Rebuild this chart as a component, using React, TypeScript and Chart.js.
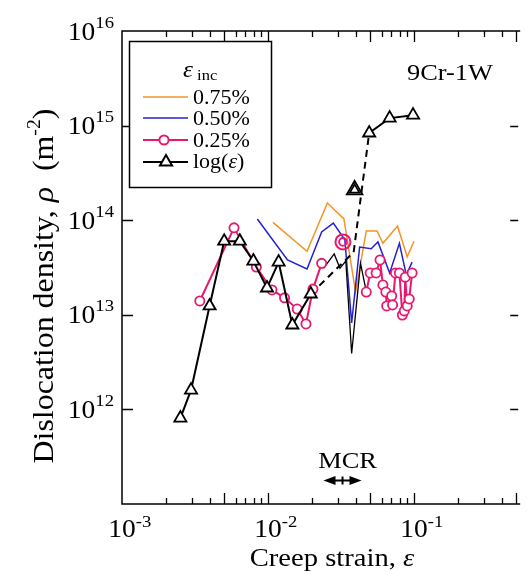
import { useEffect, useRef } from 'react';
import { Chart, registerables } from 'chart.js';

Chart.register(...registerables);

const FONT = "'Liberation Serif', 'Times New Roman', serif";
const SX = 1.1; // horizontal stretch applied to all lettering

// ---- data: creep strain (x) and dislocation density in m^-2 (y) ----
const inc075Strain = [0.0108, 0.0185, 0.0255, 0.0331, 0.0398, 0.0471, 0.0558, 0.0612, 0.0771, 0.0898, 0.1];
const inc075Rho = [9.5e13, 4.7e13, 1.52e14, 1.03e14, 1.74e13, 7.7e13, 7.7e13, 5.7e13, 8.7e13, 4.1e13, 6.0e13];

const inc050Strain = [0.00845, 0.0136, 0.0185, 0.0233, 0.028, 0.0336, 0.0374, 0.0424, 0.0509, 0.0566, 0.0681, 0.0794, 0.0885, 0.097];
const inc050Rho = [1.03e14, 3.8e13, 3.05e13, 7.5e13, 9.3e13, 6.2e13, 8.2e12, 5.2e13, 5.0e13, 5.9e13, 2.77e13, 5.7e13, 2.64e13, 3.6e13];

const inc025EarlyStrain = [0.00341, 0.00585, 0.00832, 0.01064, 0.01298, 0.01585, 0.0182, 0.0203, 0.0233];
const inc025EarlyRho = [1.4e13, 8.3e13, 3.2e13, 1.83e13, 1.51e13, 1.15e13, 8.0e12, 1.87e13, 3.5e13];
const inc025LateStrain = [0.0471, 0.0501, 0.055, 0.0585, 0.0612, 0.0641, 0.065, 0.0703, 0.0713, 0.0746, 0.0794, 0.0832, 0.0858, 0.0871, 0.0898, 0.0927, 0.097];
const inc025LateRho = [1.74e13, 2.77e13, 2.77e13, 3.8e13, 2.07e13, 1.74e13, 1.24e13, 1.58e13, 1.27e13, 2.77e13, 2.77e13, 9.95e12, 1.1e13, 2.5e13, 1.24e13, 1.47e13, 2.77e13];
const inc025MarkStrain = [0.0326, 0.0326];
const inc025MarkRho = [5.9e13, 5.9e13];

const logEarlyStrain = [0.00251, 0.00297, 0.00398, 0.00501, 0.00641, 0.00794, 0.00984, 0.01183, 0.01468, 0.01963];
const logEarlyRho = [8.1e11, 1.6e12, 1.24e13, 6.0e13, 6.0e13, 3.7e13, 1.92e13, 3.6e13, 7.8e12, 1.66e13];
const logLateStrain = [0.0493, 0.0681, 0.0985];
const logLateRho = [8.35e14, 1.2e15, 1.29e15];
const logBridgeStrain = [0.01963, 0.0386, 0.0493];
const logBridgeRho = [1.66e13, 4.6e13, 8.35e14];
const logMarkStrain = [0.0392, 0.0392];
const logMarkRho = [2.09e14, 2.09e14];

const refStrain = [0.024, 0.0284, 0.0311, 0.0341, 0.0374, 0.043, 0.0464];
const refRho = [3.1e13, 4.4e13, 3.1e13, 3.7e13, 3.9e12, 3.5e13, 1.97e13];

const mcrStrain = [0.024, 0.0437];
const mcrRho = 1.8e11;

// ---- axes ----
const xMin = 1e-3;
const xMax = 0.517;
const yMin = 1e11;
const yMax = 1e16;
const xDecades = [1e-3, 1e-2, 1e-1];
const xTickExps = ['-3', '-2', '-1'];
const yTickValues = [1e16, 1e15, 1e14, 1e13, 1e12];
const yTickExps = ['16', '15', '14', '13', '12'];

const legendLabels = ['0.75%', '0.50%', '0.25%'];

const ORANGE = '#f39426';
const BLUE = '#2222d4';
const PINK = '#e8186f';
const BLACK = '#000000';

const pts = (xs: number[], ys: (number | null)[]) => xs.map((x, i) => ({ x, y: ys[i] }));

type Seg = { t: string; size: number; italic?: boolean; rise?: number };

function fontOf(s: Seg) {
  return `${s.italic ? 'italic ' : ''}${s.size}px ${FONT}`;
}

function richWidth(ctx: CanvasRenderingContext2D, segs: Seg[]) {
  return segs.map((s) => {
    ctx.font = fontOf(s);
    return ctx.measureText(s.t).width * SX;
  });
}

function drawRich(ctx: CanvasRenderingContext2D, segs: Seg[], x: number, y: number, align: 'left' | 'center' | 'right') {
  const widths = richWidth(ctx, segs);
  const total = widths.reduce((a, b) => a + b, 0);
  let cx = align === 'left' ? x : align === 'center' ? x - total / 2 : x - total;
  ctx.textAlign = 'left';
  ctx.textBaseline = 'alphabetic';
  segs.forEach((s, i) => {
    ctx.font = fontOf(s);
    ctx.save();
    ctx.translate(cx, y - (s.rise || 0));
    ctx.scale(SX, 1);
    ctx.fillText(s.t, 0, 0);
    ctx.restore();
    cx += widths[i];
  });
}

function triangle(ctx: CanvasRenderingContext2D, x: number, y: number, r: number) {
  let rad = 0;
  ctx.beginPath();
  for (let k = 0; k < 3; k++) {
    const px = x + Math.sin(rad) * r;
    const py = y - Math.cos(rad) * r;
    if (k === 0) ctx.moveTo(px, py);
    else ctx.lineTo(px, py);
    rad += (2 * Math.PI) / 3;
  }
  ctx.closePath();
}

const overlay = {
  id: 'overlay',
  afterDraw(chart: any) {
    const ctx: CanvasRenderingContext2D = chart.ctx;
    const xs = chart.scales.x;
    const ys = chart.scales.y;
    const { left, right, top, bottom } = chart.chartArea;
    ctx.save();
    ctx.fillStyle = BLACK;
    ctx.strokeStyle = BLACK;
    ctx.lineWidth = 1.5;

    // frame (right edge falls outside the canvas)
    ctx.beginPath();
    ctx.moveTo(right + 2, top);
    ctx.lineTo(left, top);
    ctx.lineTo(left, bottom);
    ctx.lineTo(right + 2, bottom);
    ctx.stroke();

    // x ticks, top and bottom, inward
    ctx.lineWidth = 1.3;
    xDecades.forEach((d) => {
      for (let m = 1; m <= 9; m++) {
        const v = d * m;
        if (v <= xMin || v > xMax) continue;
        const px = Math.round(xs.getPixelForValue(v)) + 0.5;
        const len = m === 1 || m === 5 ? 11 : 6;
        ctx.beginPath();
        ctx.moveTo(px, bottom);
        ctx.lineTo(px, bottom - len);
        ctx.moveTo(px, top);
        ctx.lineTo(px, top + len);
        ctx.stroke();
      }
    });
    // y ticks, left and right, inward
    yTickValues.forEach((v) => {
      if (v >= yMax || v <= yMin) return;
      const py = Math.round(ys.getPixelForValue(v)) + 0.5;
      ctx.beginPath();
      ctx.moveTo(left, py);
      ctx.lineTo(left + 11, py);
      ctx.moveTo(right, py);
      ctx.lineTo(right - 8, py);
      ctx.stroke();
    });

    // y tick labels
    yTickValues.forEach((v, i) => {
      const py = ys.getPixelForValue(v);
      drawRich(ctx, [{ t: '10', size: 25 }, { t: yTickExps[i], size: 17, rise: 12 }], left - 8, py + 8.5, 'right');
    });
    // x tick labels
    xDecades.forEach((v, i) => {
      const px = xs.getPixelForValue(v);
      const base: Seg = { t: '10', size: 25 };
      const wb = richWidth(ctx, [base])[0];
      drawRich(ctx, [base, { t: xTickExps[i], size: 17, rise: 10 }], px - wb / 2, bottom + 33, 'left');
    });

    // axis titles
    drawRich(ctx, [{ t: 'Creep strain, ', size: 26 }, { t: 'ε', size: 26, italic: true }], 332, 566, 'center');
    ctx.save();
    ctx.translate(53, 286);
    ctx.rotate(-Math.PI / 2);
    drawRich(
      ctx,
      [
        { t: 'Dislocation density, ', size: 29 },
        { t: 'ρ', size: 29, italic: true },
        { t: '  (m', size: 29 },
        { t: '-2', size: 18, rise: 13 },
        { t: ')', size: 29 },
      ],
      0,
      0,
      'center'
    );
    ctx.restore();

    // material label
    drawRich(ctx, [{ t: '9Cr-1W', size: 24 }], 407, 80, 'left');

    // MCR range arrow
    const ay = Math.round(ys.getPixelForValue(mcrRho)) + 0.5;
    const ax0 = xs.getPixelForValue(mcrStrain[0]);
    const ax1 = xs.getPixelForValue(mcrStrain[1]);
    const amid = (ax0 + ax1) / 2;
    ctx.lineWidth = 2;
    ctx.beginPath();
    ctx.moveTo(ax0 + 6, ay);
    ctx.lineTo(ax1 - 6, ay);
    ctx.stroke();
    ctx.beginPath();
    ctx.moveTo(ax0, ay);
    ctx.lineTo(ax0 + 12, ay - 4.5);
    ctx.lineTo(ax0 + 12, ay + 4.5);
    ctx.closePath();
    ctx.fill();
    ctx.beginPath();
    ctx.moveTo(ax1, ay);
    ctx.lineTo(ax1 - 12, ay - 4.5);
    ctx.lineTo(ax1 - 12, ay + 4.5);
    ctx.closePath();
    ctx.fill();
    ctx.beginPath();
    ctx.moveTo(amid, ay - 4);
    ctx.lineTo(amid, ay + 4);
    ctx.stroke();
    drawRich(ctx, [{ t: 'MCR', size: 24 }], amid + 5, ay - 13, 'center');

    // legend
    const lx0 = 129, ly0 = 41, lx1 = 271, ly1 = 187;
    ctx.fillStyle = '#ffffff';
    ctx.fillRect(lx0, ly0, lx1 - lx0, ly1 - ly0);
    ctx.strokeStyle = BLACK;
    ctx.lineWidth = 1.5;
    ctx.strokeRect(lx0 + 0.5, ly0 + 0.5, lx1 - lx0, ly1 - ly0);
    ctx.fillStyle = BLACK;
    drawRich(ctx, [{ t: 'ε', size: 23, italic: true }, { t: ' inc', size: 15, rise: -3 }], 183, 77, 'left');

    const rows = [97, 118, 140, 162];
    const colors = [ORANGE, BLUE, PINK, BLACK];
    const widths = [1.5, 1.5, 2, 2];
    rows.forEach((ry, i) => {
      ctx.strokeStyle = colors[i];
      ctx.lineWidth = widths[i];
      ctx.beginPath();
      ctx.moveTo(143, ry);
      ctx.lineTo(188, ry);
      ctx.stroke();
      if (i === 2) {
        ctx.fillStyle = '#ffffff';
        ctx.beginPath();
        ctx.arc(164, ry, 4.6, 0, Math.PI * 2);
        ctx.fill();
        ctx.stroke();
      }
      if (i === 3) {
        ctx.fillStyle = '#ffffff';
        triangle(ctx, 166, ry, 7);
        ctx.fill();
        ctx.stroke();
      }
      ctx.fillStyle = BLACK;
      if (i < 3) {
        drawRich(ctx, [{ t: legendLabels[i], size: 20 }], 193, ry + 7, 'left');
      } else {
        drawRich(ctx, [{ t: 'log(', size: 20 }, { t: 'ε', size: 20, italic: true }, { t: ')', size: 20 }], 193, ry + 6, 'left');
      }
    });

    ctx.restore();
  },
};

export default function App() {
  const ref = useRef<HTMLCanvasElement>(null);

  useEffect(() => {
    const canvas = ref.current;
    if (!canvas) return;

    const inc025 = [...pts(inc025EarlyStrain, inc025EarlyRho), { x: 0.03, y: null }, ...pts(inc025LateStrain, inc025LateRho)];
    const logSeries = [...pts(logEarlyStrain, logEarlyRho), { x: 0.03, y: null }, ...pts(logLateStrain, logLateRho)];

    const chart = new Chart(canvas, {
      type: 'line',
      data: {
        datasets: [
          {
            label: 'log(ε)',
            data: logSeries as any,
            borderColor: BLACK,
            borderWidth: 2,
            pointStyle: 'triangle',
            pointRadius: 7,
            pointBorderWidth: 1.8,
            pointBackgroundColor: '#ffffff',
            pointBorderColor: BLACK,
            spanGaps: false,
            order: 0,
          },
          {
            label: 'log(ε) marks',
            data: pts(logMarkStrain, logMarkRho),
            showLine: false,
            pointStyle: 'triangle',
            pointRadius: [9, 5.5],
            pointBorderWidth: 1.8,
            pointBackgroundColor: 'rgba(255,255,255,0)',
            pointBorderColor: BLACK,
            order: 1,
          },
          {
            label: 'log(ε) bridge',
            data: pts(logBridgeStrain, logBridgeRho),
            borderColor: BLACK,
            borderWidth: 2,
            borderDash: [7, 5],
            pointRadius: 0,
            order: 4,
          },
          {
            label: '0.25%',
            data: inc025 as any,
            borderColor: PINK,
            borderWidth: 2,
            pointStyle: 'circle',
            pointRadius: 4.6,
            pointBorderWidth: 1.8,
            pointBackgroundColor: '#ffffff',
            pointBorderColor: PINK,
            spanGaps: false,
            order: 2,
          },
          {
            label: '0.25% marks',
            data: pts(inc025MarkStrain, inc025MarkRho),
            showLine: false,
            pointStyle: 'circle',
            pointRadius: [7.5, 3.8],
            pointBorderWidth: 2,
            pointBackgroundColor: 'rgba(255,255,255,0)',
            pointBorderColor: PINK,
            order: 3,
          },
          {
            label: 'ref',
            data: pts(refStrain, refRho),
            borderColor: BLACK,
            borderWidth: 1.3,
            pointRadius: 0,
            order: 5,
          },
          {
            label: '0.50%',
            data: pts(inc050Strain, inc050Rho),
            borderColor: BLUE,
            borderWidth: 1.5,
            pointRadius: 0,
            order: 6,
          },
          {
            label: '0.75%',
            data: pts(inc075Strain, inc075Rho),
            borderColor: ORANGE,
            borderWidth: 1.5,
            pointRadius: 0,
            order: 7,
          },
        ],
      },
      options: {
        animation: false,
        responsive: false,
        devicePixelRatio: 1,
        layout: { padding: { left: 122, top: 31, right: 0, bottom: 68 } },
        scales: {
          x: { type: 'logarithmic', min: xMin, max: xMax, bounds: 'data', display: false },
          y: { type: 'logarithmic', min: yMin, max: yMax, bounds: 'data', display: false },
        },
        plugins: {
          legend: { display: false },
          tooltip: { enabled: false },
        },
        elements: { line: { tension: 0 } },
      },
      plugins: [overlay],
    });

    return () => chart.destroy();
  }, []);

  return (
    <div style={{ position: 'fixed', left: 0, top: 0, width: 529, height: 572, background: '#ffffff' }}>
      <canvas ref={ref} width={529} height={572} style={{ display: 'block', width: 529, height: 572 }} />
    </div>
  );
}
